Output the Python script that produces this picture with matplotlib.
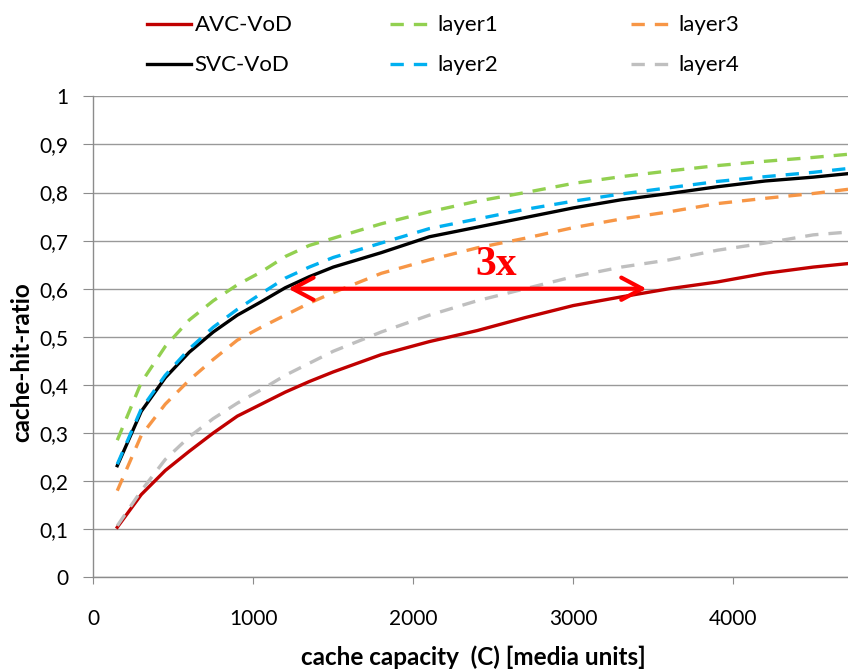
import matplotlib.pyplot as plt
from matplotlib.ticker import FuncFormatter

# cache capacity sample points
capacity = [150, 300, 450, 600, 750, 900, 1050, 1200, 1350, 1500,
            1800, 2100, 2400, 2700, 3000, 3300, 3600, 3900, 4200, 4500, 4800]

# cache-hit-ratio per series
avc_vod = [0.104, 0.172, 0.222, 0.262, 0.300, 0.335, 0.360, 0.385, 0.407, 0.427,
           0.463, 0.490, 0.513, 0.540, 0.565, 0.583, 0.600, 0.614, 0.632, 0.645, 0.655]
svc_vod = [0.232, 0.345, 0.415, 0.468, 0.510, 0.545, 0.573, 0.602, 0.625, 0.645,
           0.675, 0.708, 0.728, 0.748, 0.768, 0.785, 0.798, 0.812, 0.824, 0.832, 0.842]
layer1 = [0.285, 0.405, 0.480, 0.535, 0.575, 0.608, 0.635, 0.667, 0.690, 0.705,
          0.735, 0.760, 0.782, 0.800, 0.819, 0.833, 0.845, 0.856, 0.865, 0.873, 0.882]
layer2 = [0.235, 0.350, 0.420, 0.475, 0.520, 0.557, 0.590, 0.622, 0.645, 0.665,
          0.695, 0.725, 0.745, 0.765, 0.782, 0.797, 0.810, 0.823, 0.833, 0.842, 0.853]
layer3 = [0.180, 0.295, 0.360, 0.410, 0.453, 0.493, 0.520, 0.545, 0.570, 0.592,
          0.632, 0.660, 0.685, 0.705, 0.727, 0.745, 0.760, 0.777, 0.788, 0.798, 0.810]
layer4 = [0.107, 0.180, 0.245, 0.292, 0.330, 0.362, 0.390, 0.420, 0.445, 0.470,
          0.510, 0.545, 0.575, 0.600, 0.625, 0.645, 0.660, 0.680, 0.695, 0.712, 0.720]

x_ticks = [0, 1000, 2000, 3000, 4000]
y_ticks = [0, 0.1, 0.2, 0.3, 0.4, 0.5, 0.6, 0.7, 0.8, 0.9, 1.0]

# the "3x" arrow between SVC-VoD and AVC-VoD at ratio 0.6
arrow_left = 1219
arrow_right = 3458
arrow_y = 0.6

plt.rcParams['font.family'] = ['Lato', 'DejaVu Sans']

fig = plt.figure(figsize=(8.48, 6.70), dpi=100)
ax = fig.add_axes([0.110, 0.1384, 0.890, 0.7178])

dash = (0, (4, 3))
lines = []
lines += ax.plot(capacity, avc_vod, color='#C00000', lw=2.4, label='AVC-VoD')
lines += ax.plot(capacity, svc_vod, color='black', lw=2.4, label='SVC-VoD')
lines += ax.plot(capacity, layer1, color='#92D050', lw=2.4, ls=dash, label='layer1')
lines += ax.plot(capacity, layer2, color='#00B0F0', lw=2.4, ls=dash, label='layer2')
lines += ax.plot(capacity, layer3, color='#F79646', lw=2.4, ls=dash, label='layer3')
lines += ax.plot(capacity, layer4, color='#BFBFBF', lw=2.4, ls=dash, label='layer4')

ax.annotate('', xy=(arrow_left, arrow_y), xytext=(arrow_right, arrow_y),
            arrowprops=dict(arrowstyle='<->,head_length=0.75,head_width=0.4',
                            color='#FF0000', lw=3, mutation_scale=20,
                            shrinkA=0, shrinkB=0))
ax.text(2517, 0.649, '3x', color='#FF0000', fontsize=30, fontweight='bold',
        family='Liberation Serif', ha='center', va='center')

ax.set_xlim(0, 4717)
ax.set_ylim(0, 1)
ax.set_xticks(x_ticks)
ax.set_yticks(y_ticks)
ax.yaxis.set_major_formatter(FuncFormatter(
    lambda v, p: '%g' % round(v, 1) if v in (0, 1) else ('%.1f' % v).replace('.', ',')))

ax.grid(axis='y', color='#999999', lw=1)
ax.set_axisbelow(True)
for s in ['top', 'right']:
    ax.spines[s].set_visible(False)
for s in ['left', 'bottom']:
    ax.spines[s].set_color('#8C8C8C')
    ax.spines[s].set_linewidth(1)
ax.tick_params(axis='y', direction='out', length=7, color='#8C8C8C', labelsize=15, pad=11)
ax.tick_params(axis='x', direction='out', length=5, color='#8C8C8C', labelsize=15, pad=18)

ax.set_xlabel('cache capacity  (C) [media units]', fontsize=17.5, fontweight='bold')
ax.set_ylabel('cache-hit-ratio', fontsize=17.5, fontweight='bold')
ax.xaxis.label.set_va('center')
ax.yaxis.label.set_va('center')
ax.xaxis.set_label_coords(0.504, -0.167)
ax.yaxis.set_label_coords(-0.095, 0.447)

# legend: three fixed-width columns, two rows each
col_left = [0.1733, 0.4599, 0.7441]
for i, x0 in enumerate(col_left):
    pair = lines[2 * i:2 * i + 2]
    fig.legend(pair, [l.get_label() for l in pair], loc='upper left',
               bbox_to_anchor=(x0, 0.977), frameon=False, fontsize=16,
               handlelength=2.0, handletextpad=0.15, labelspacing=0.9,
               borderpad=0, borderaxespad=0)

fig.savefig('out.png', dpi=100)
